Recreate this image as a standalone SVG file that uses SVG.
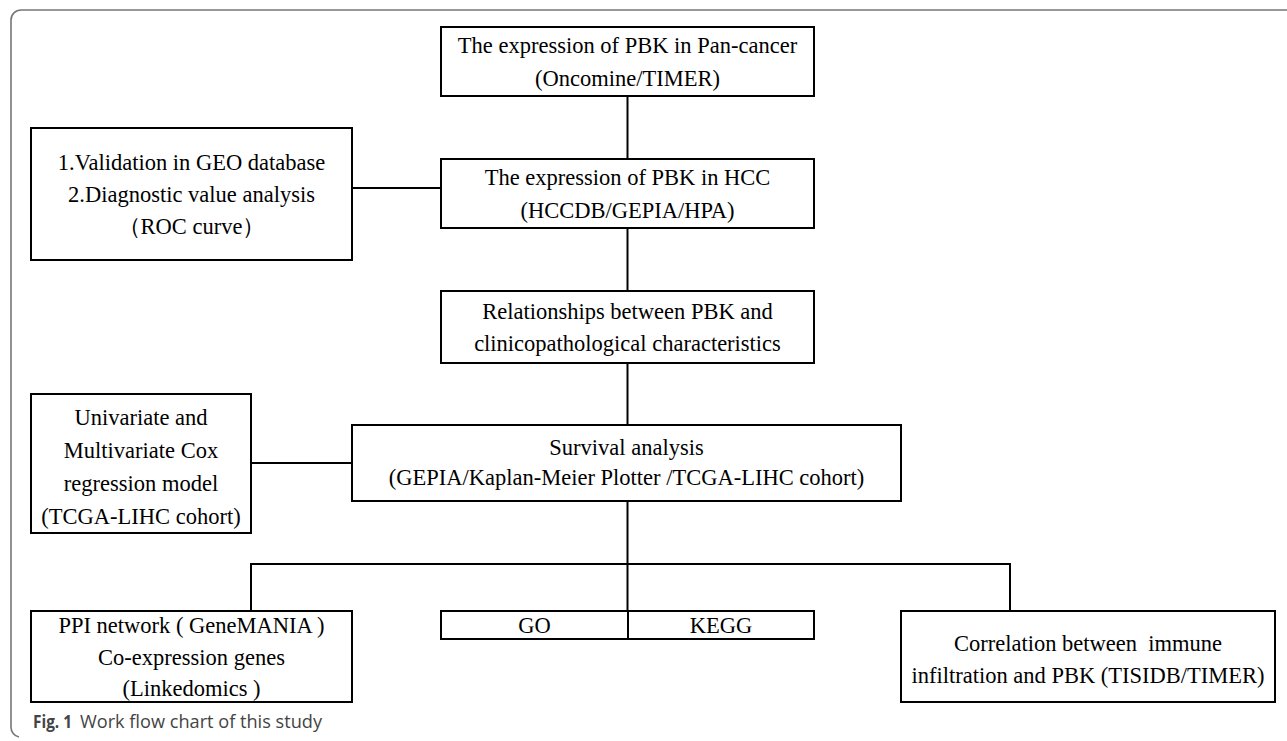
<svg xmlns="http://www.w3.org/2000/svg" width="1287" height="741" viewBox="0 0 1287 741">
<style>
.box{fill:#fff;stroke:#000;stroke-width:2}
.t{font-family:"Liberation Serif","Times New Roman",serif;font-size:22.5px;fill:#000;text-anchor:middle}
.c{fill:none;stroke:#000;stroke-width:2}
.frame{fill:none;stroke:#777;stroke-width:1.6}
.cap{font-family:"Open Sans","Noto Sans","Liberation Sans",sans-serif;font-size:18px;fill:#444}
</style>
<rect width="1287" height="741" fill="#fff"/>
<path class="frame" d="M1287,10 H21 A10,10 0 0 0 11,20 V727 A10,10 0 0 0 19,737"/>
<g id="connectors">
<line class="c" x1="627.5" y1="96" x2="627.5" y2="159"/>
<line class="c" x1="352" y1="188" x2="441" y2="188"/>
<line class="c" x1="627.5" y1="228" x2="627.5" y2="291"/>
<line class="c" x1="627.5" y1="363" x2="627.5" y2="425"/>
<line class="c" x1="251" y1="463" x2="352" y2="463"/>
<line class="c" x1="627.5" y1="501" x2="627.5" y2="611"/>
<path class="c" d="M251,611 V564 H1010 V611"/>
</g>
<g id="node-pancancer">
<rect class="box" x="441" y="27" width="373" height="69"/>
<text class="t" x="627.5" y="53">The expression of PBK in Pan-cancer</text>
<text class="t" x="627.5" y="86">(Oncomine/TIMER)</text>
</g>
<g id="node-hcc">
<rect class="box" x="441" y="159" width="373" height="69"/>
<text class="t" x="627.5" y="185">The expression of PBK in HCC</text>
<text class="t" x="627.5" y="218">(HCCDB/GEPIA/HPA)</text>
</g>
<g id="node-validation">
<rect class="box" x="31" y="128" width="321" height="132"/>
<text class="t" x="191.5" y="170">1.Validation in GEO database</text>
<text class="t" x="191.5" y="202">2.Diagnostic value analysis</text>
<text class="t" x="191.5" y="234">（ROC curve）</text>
</g>
<g id="node-relationships">
<rect class="box" x="441" y="291" width="373" height="72"/>
<text class="t" x="627.5" y="319">Relationships between PBK and</text>
<text class="t" x="627.5" y="351">clinicopathological characteristics</text>
</g>
<g id="node-cox">
<rect class="box" x="31" y="394" width="220" height="139"/>
<text class="t" x="141" y="425">Univariate and</text>
<text class="t" x="141" y="458">Multivariate Cox</text>
<text class="t" x="141" y="491">regression model</text>
<text class="t" x="141" y="524">(TCGA-LIHC cohort)</text>
</g>
<g id="node-survival">
<rect class="box" x="352" y="425" width="549" height="76"/>
<text class="t" x="626.5" y="455">Survival analysis</text>
<text class="t" x="626.5" y="485">(GEPIA/Kaplan-Meier Plotter /TCGA-LIHC cohort)</text>
</g>
<g id="node-ppi">
<rect class="box" x="31" y="611" width="321" height="91"/>
<text class="t" x="191.5" y="633">PPI network ( GeneMANIA )</text>
<text class="t" x="191.5" y="665">Co-expression genes</text>
<text class="t" x="191.5" y="696">(Linkedomics )</text>
</g>
<g id="node-gokegg">
<rect class="box" x="441" y="611" width="373" height="28"/>
<line class="c" x1="628" y1="611" x2="628" y2="639"/>
<text class="t" x="534.5" y="633">GO</text>
<text class="t" x="721" y="633">KEGG</text>
</g>
<g id="node-immune">
<rect class="box" x="901" y="611" width="374" height="91"/>
<text class="t" x="1088" y="651" xml:space="preserve">Correlation between  immune</text>
<text class="t" x="1088" y="683">infiltration and PBK (TISIDB/TIMER)</text>
</g>
<g id="caption">
<text class="cap" x="33" y="728" font-weight="bold" fill="#333" textLength="39" lengthAdjust="spacingAndGlyphs">Fig. 1</text>
<text class="cap" x="80" y="728" textLength="242" lengthAdjust="spacingAndGlyphs">Work flow chart of this study</text>
</g>
</svg>
